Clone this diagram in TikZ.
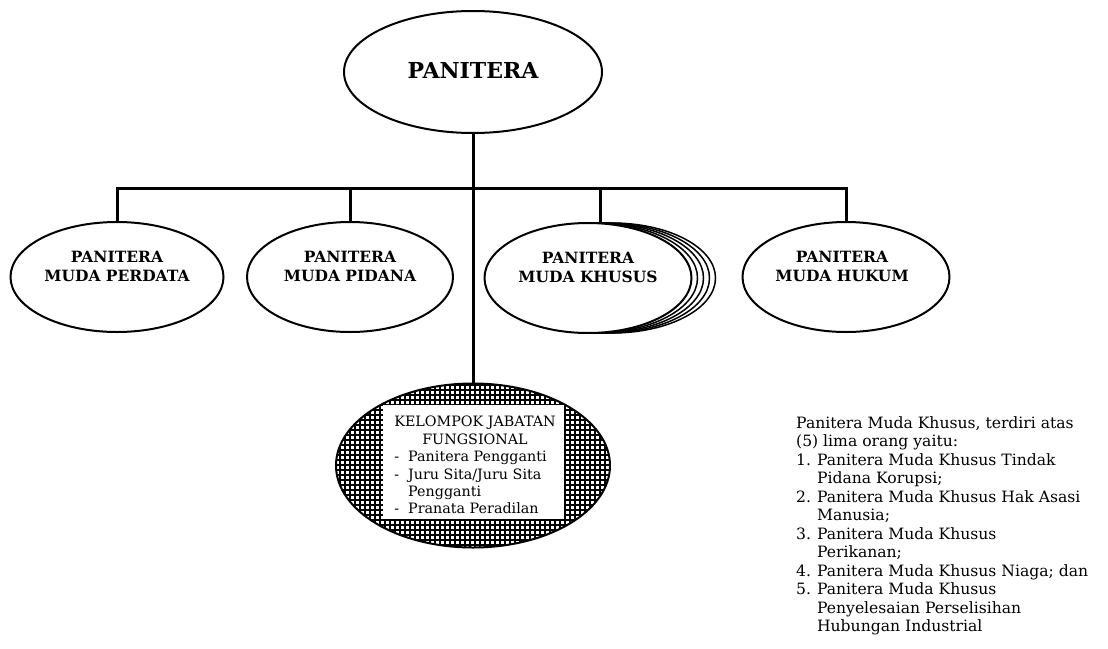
\documentclass[tikz,border=0pt]{standalone}
\usepackage{fontspec}
\setmainfont{DejaVu Serif}
\usetikzlibrary{shapes.geometric}
\begin{document}
\begin{tikzpicture}[x=1pt,y=-1pt,
  oval/.style={draw, ellipse, line width=2pt, fill=white, inner sep=0pt},
  head/.style={font=\bfseries\fontsize{15.5}{19}\selectfont, align=center, inner sep=0pt},
  link/.style={line width=3pt},
  body/.style={inner sep=0pt, font=\fontsize{14.3}{17.4}\selectfont},
  ]
\useasboundingbox[fill=white] (0,0) rectangle (1108,648);
% top
\node[oval, minimum width=258pt, minimum height=122pt] (top) at (473,72) {};
\node[inner sep=0pt, font=\bfseries\fontsize{22}{26}\selectfont] (toptext) at (473,70) {PANITERA};
% children
\coordinate (bar) at (0,188);
\node[oval, minimum width=213pt, minimum height=110pt] (perdata) at (117,277) {};
\node[head] (perdatatext) at (117,266.5) {PANITERA\\MUDA PERDATA};
\node[oval, minimum width=206pt, minimum height=110pt] (pidana) at (350,277) {};
\node[head] (pidanatext) at (350,266.5) {PANITERA\\MUDA PIDANA};
\foreach \k in {4,3,2,1}{
  \node[oval, line width=1.5pt, minimum width=207pt, minimum height=110pt] (khusus\k) at ({588+6*\k},278) {};
}
\node[oval, minimum width=207pt, minimum height=110pt] (khusus) at (588,278) {};
\node[head] (khusustext) at (588,267) {PANITERA\\MUDA KHUSUS};
\node[oval, minimum width=207pt, minimum height=110pt] (hukum) at (846,277) {};
\node[head] (hukumtext) at (842,266.5) {PANITERA\\MUDA HUKUM};
% fungsional
\begin{scope}
  \clip (473,465.5) ellipse [x radius=137, y radius=82];
  \draw[line width=1.8pt, step=5pt] (320,375) grid (630,560);
\end{scope}
\node[draw, ellipse, line width=2pt, inner sep=0pt, minimum width=274pt, minimum height=164pt] (fung) at (473,465.5) {};
\node[fill=white, inner sep=0pt, minimum width=181pt, minimum height=114pt] (fungbox) at (473,461.5) {};
\node[body] (fungtext) at (475,467) {\begin{tabular}{@{}l@{\hspace{9pt}}l@{}}
\multicolumn{2}{@{}c@{}}{KELOMPOK JABATAN}\\
\multicolumn{2}{@{}c@{}}{FUNGSIONAL}\\
-& Panitera Pengganti\\
-& Juru Sita/Juru Sita\\
 & Pengganti\\
-& Pranata Peradilan
\end{tabular}};
% connectors
\draw[link] (top.south) -- (fung.north);
\draw[link] (perdata.north) -- (perdata.north |- bar) -- (hukum.north |- bar) -- (hukum.north);
\draw[link] (pidana.north) -- (pidana.north |- bar);
\draw[link] (khusus2.north) -- (khusus2.north |- bar);
% note
\node[inner sep=0pt, anchor=west, font=\fontsize{15.6}{18.5}\selectfont] (note) at (796,526.5) {\begin{tabular}{@{}l@{\hspace{6pt}}l@{}}
\multicolumn{2}{@{}l@{}}{Panitera Muda Khusus, terdiri atas}\\
\multicolumn{2}{@{}l@{}}{(5) lima orang yaitu:}\\
1.& Panitera Muda Khusus Tindak\\
 & Pidana Korupsi;\\
2.& Panitera Muda Khusus Hak Asasi\\
 & Manusia;\\
3.& Panitera Muda Khusus\\
 & Perikanan;\\
4.& Panitera Muda Khusus Niaga; dan\\
5.& Panitera Muda Khusus\\
 & Penyelesaian Perselisihan\\
 & Hubungan Industrial
\end{tabular}};
\end{tikzpicture}
\end{document}
